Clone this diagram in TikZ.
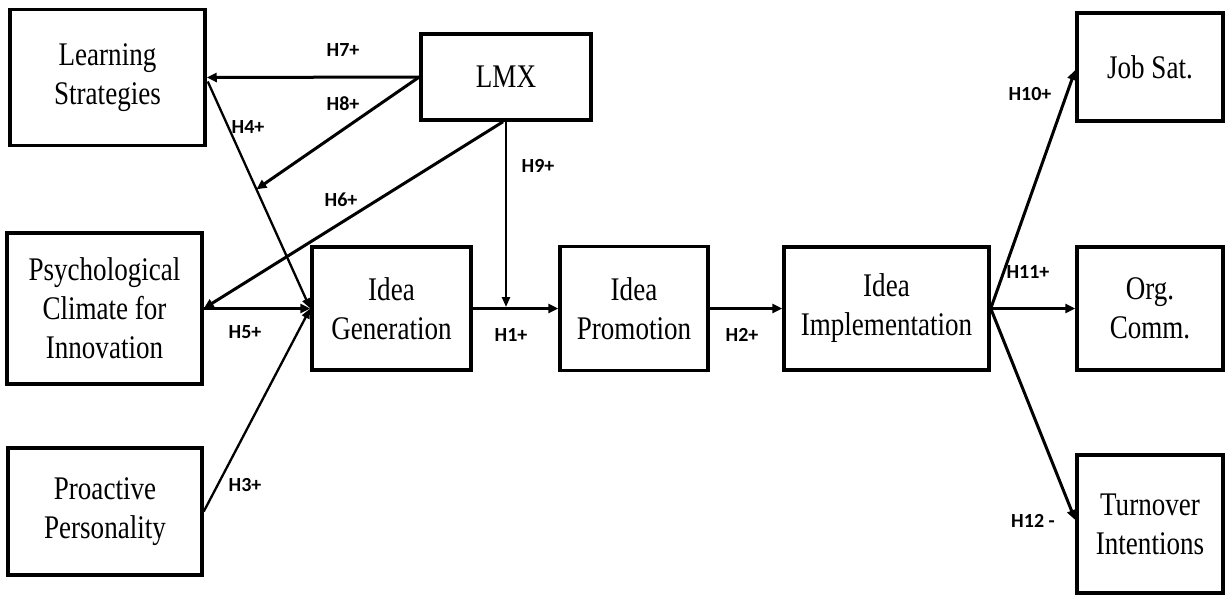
\documentclass[tikz,border=0pt]{standalone}
\usepackage{fontspec}
\setmainfont{Liberation Serif}[FakeStretch=0.82]
\newfontfamily\hypfont{Carlito}
\usetikzlibrary{arrows.meta,calc}

\begin{document}
\begin{tikzpicture}[x=1pt,y=-1pt,
  box/.style={draw,line width=3.5pt,align=center,inner sep=0pt,
    font=\fontsize{33}{39}\selectfont},
  link/.style={line width=3pt,-{Triangle[length=10pt,width=9pt]}},
  thinlink/.style={line width=2.3pt,-{Triangle[length=10pt,width=8pt]}},
  hyp/.style={font=\hypfont\bfseries\fontsize{20}{24}\selectfont,inner sep=0pt}
]
\useasboundingbox (0,0) rectangle (1228,597);

% constructs
\node[box,minimum width=195pt,minimum height=136pt] (learn)  at (107.5,77.5) {Learning\\Strategies};
\node[box,minimum width=170pt,minimum height=86pt]  (lmx)    at (506,77)     {LMX};
\node[box,minimum width=195pt,minimum height=151pt] (psych)  at (104.5,308.5) {Psychological\\Climate for\\Innovation};
\node[box,minimum width=194pt,minimum height=127pt] (proact) at (105,511.5)  {Proactive\\Personality};
\node[box,minimum width=159pt,minimum height=123pt] (gen)    at (391.5,308.5) {Idea\\Generation};
\node[box,minimum width=148pt,minimum height=124pt] (prom)   at (634,308.5)  {Idea\\Promotion};
\node[box,minimum width=205pt,minimum height=123pt] (impl)   at (886.5,308.5) {Idea\\Implementation};
\node[box,minimum width=146pt,minimum height=108pt] (job)    at (1150,67)    {Job Sat.};
\node[box,minimum width=146pt,minimum height=123pt] (org)    at (1150,308.5) {Org.\\Comm.};
\node[box,minimum width=146pt,minimum height=138pt] (turn)   at (1150,524)   {Turnover\\Intentions};

% helper points
\coordinate (h4start) at ($(learn.east)+(1,4)$);
\coordinate (h8end) at ($(h4start)!0.475!(gen.west)$);
\coordinate (h9end) at (lmx.south |- gen.east);

% hypothesised paths
\draw[link] (lmx.west) -- (learn.east);
\draw[thinlink] (h4start) -- (gen.west);
\draw[link] (lmx.west) -- (h8end);
\draw[link] ($(lmx.south)+(-3,0)$) -- (psych.east);
\draw[thinlink,shorten >=1.5pt] (lmx.south) -- (h9end);
\draw[link] (psych.east) -- (gen.west);
\draw[thinlink] (proact.east) -- (gen.west);
\draw[link] (gen.east) -- (prom.west);
\draw[link] (prom.east) -- (impl.west);
\draw[link] (impl.east) -- ($(job.west)+(0,3)$);
\draw[link] (impl.east) -- (org.west);
\draw[link] (impl.east) -- ($(turn.west)+(0,-4)$);

% hypothesis labels
\node[hyp] (l7)  at (343,50)   {H7+};
\node[hyp] (l8)  at (343,104)  {H8+};
\node[hyp] (l4)  at (248,127)  {H4+};
\node[hyp] (l6)  at (341,200)  {H6+};
\node[hyp] (l9)  at (538,166)  {H9+};
\node[hyp] (l5)  at (245,332)  {H5+};
\node[hyp] (l3)  at (245,485)  {H3+};
\node[hyp] (l1)  at (511,335)  {H1+};
\node[hyp] (l2)  at (742,335)  {H2+};
\node[hyp] (l10) at (1030,94)  {H10+};
\node[hyp] (l11) at (1028,272) {H11+};
\node[hyp] (l12) at (1033,521) {H12 -};
\end{tikzpicture}
\end{document}
